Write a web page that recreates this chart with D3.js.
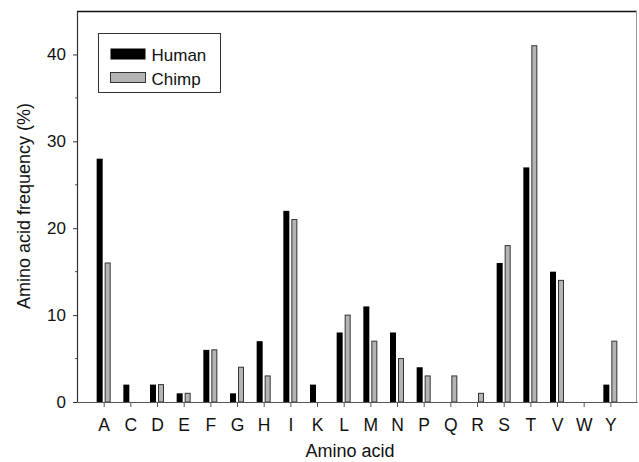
<!DOCTYPE html>
<html>
<head>
<meta charset="utf-8">
<script src="https://cdn.jsdelivr.net/npm/d3@7"></script>
<style>
    body { margin: 0; background: #fff; }
    text { font-family: "Liberation Sans", Arial, sans-serif; }
</style>
</head>
<body>
<svg id="chart"></svg>
<script>
let aminoAcids = ['A', 'C', 'D', 'E', 'F', 'G', 'H', 'I', 'K', 'L', 'M', 'N', 'P', 'Q', 'R', 'S', 'T', 'V', 'W', 'Y']
let human = [28, 2, 2, 1, 6, 1, 7, 22, 2, 8, 11, 8, 4, 0, 0, 16, 27, 15, 0, 2]
let chimp = [16, 0, 2, 1, 6, 4, 3, 21, 0, 10, 7, 5, 3, 3, 1, 18, 41, 14, 0, 7]
let yTicks = [0, 10, 20, 30, 40]
let yMinorTicks = [5, 15, 25, 35]
let seriesNames = ['Human', 'Chimp']

function init() {
    let width = 639,
        height = 462,
        left = 77, right = 637, top = 11, bottom = 402,
        svg = d3.select('#chart').attr('width', width).attr('height', height)

    let xScale = d3.scaleLinear().domain([0, aminoAcids.length + 1]).range([left, right])
    let yScale = d3.scaleLinear().domain([0, 45]).range([bottom, top])

    // frame top / right
    svg.append('line').attr('x1', left).attr('x2', right).attr('y1', top + 0.5).attr('y2', top + 0.5)
        .attr('stroke', '#111').attr('stroke-width', 1.5)
    svg.append('line').attr('x1', right - 0.5).attr('x2', right - 0.5).attr('y1', top).attr('y2', bottom)
        .attr('stroke', '#999').attr('stroke-width', 1)

    // bars
    let barW = 6
    svg.selectAll('rect.human')
        .data(human)
        .enter()
        .append('rect')
        .attr('class', 'human')
        .attr('x', (d, i) => xScale(i + 1) - barW - 1)
        .attr('y', d => yScale(d))
        .attr('width', barW)
        .attr('height', d => yScale(0) - yScale(d))
        .attr('fill', d => d > 0 ? 'black' : 'none')

    svg.selectAll('rect.chimp')
        .data(chimp)
        .enter()
        .append('rect')
        .attr('class', 'chimp')
        .attr('x', (d, i) => xScale(i + 1) + 1.5)
        .attr('y', d => yScale(d))
        .attr('width', barW - 1)
        .attr('height', d => yScale(0) - yScale(d))
        .attr('fill', d => d > 0 ? '#b4b4b4' : 'none')
        .attr('stroke', d => d > 0 ? '#333' : 'none')
        .attr('stroke-width', 1)

    // x axis
    let xAxis = d3.axisBottom(xScale)
        .tickValues(d3.range(1, aminoAcids.length + 1))
        .tickFormat(d => aminoAcids[d - 1])
        .tickSize(5)
        .tickSizeOuter(0)
    let gx = svg.append('g').attr('transform', `translate(0, ${bottom})`).call(xAxis)
    gx.select('.domain').attr('stroke', '#555').attr('stroke-width', 1.2)
    gx.selectAll('.tick line').attr('stroke', '#555')
    gx.selectAll('.tick text').attr('font-size', 17.5).attr('fill', '#111')
        .attr('y', 29).attr('dy', null)

    // y axis
    let yAxis = d3.axisLeft(yScale)
        .tickValues(yTicks)
        .tickSize(4)
        .tickSizeOuter(0)
    let gy = svg.append('g').attr('transform', `translate(${left}, 0)`).call(yAxis)
    gy.select('.domain').attr('stroke', '#333').attr('stroke-width', 1.2)
    gy.selectAll('.tick line').attr('stroke', '#333')
    gy.selectAll('.tick text').attr('font-size', 17).attr('fill', '#111').attr('x', -11)

    svg.append('g').selectAll('line')
        .data(yMinorTicks)
        .enter()
        .append('line')
        .attr('x1', left - 2)
        .attr('x2', left)
        .attr('y1', d => yScale(d))
        .attr('y2', d => yScale(d))
        .attr('stroke', '#555')

    // axis titles
    svg.append('text')
        .text('Amino acid')
        .attr('x', (left + right) / 2 - 7)
        .attr('y', 457)
        .attr('text-anchor', 'middle')
        .attr('font-size', 18)
        .attr('fill', '#111')

    svg.append('text')
        .text('Amino acid frequency (%)')
        .attr('transform', `translate(30, 206) rotate(-90)`)
        .attr('text-anchor', 'middle')
        .attr('font-size', 18)
        .attr('fill', '#111')

    // legend
    let legend = svg.append('g').attr('transform', 'translate(98.5, 33.5)')
    legend.append('rect')
        .attr('width', 122)
        .attr('height', 59)
        .attr('fill', 'white')
        .attr('stroke', '#333')
        .attr('stroke-width', 1)

    let item = legend.selectAll('g.item')
        .data(seriesNames)
        .enter()
        .append('g')
        .attr('class', 'item')
        .attr('transform', (d, i) => `translate(12, ${15 + i * 24})`)

    item.append('rect')
        .attr('width', 35)
        .attr('height', d => d === 'Human' ? 11 : 10)
        .attr('fill', d => d === 'Human' ? 'black' : '#b4b4b4')
        .attr('stroke', d => d === 'Human' ? 'none' : '#333')

    item.append('text')
        .text(d => d)
        .attr('x', 41)
        .attr('y', 12)
        .attr('font-size', 17)
        .attr('fill', '#111')
}

onload = function () {
    init()
}
</script>
</body>
</html>
